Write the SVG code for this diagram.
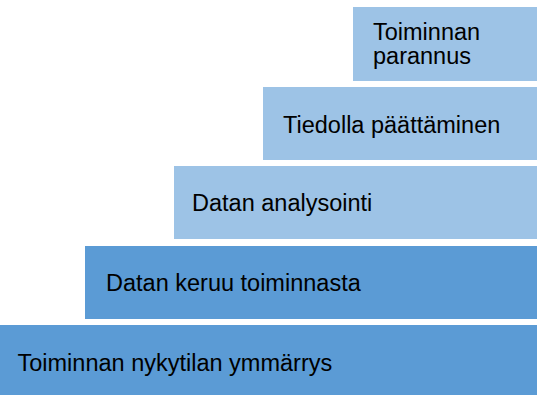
<svg xmlns="http://www.w3.org/2000/svg" width="537" height="395" viewBox="0 0 537 395">
<style>
.light{fill:#9DC3E6}
.dark{fill:#5B9BD5}
text{font-family:"Liberation Sans",Arial,sans-serif;font-size:23.5px;fill:#000}
</style>
<rect width="537" height="395" fill="#fff"/>
<g id="step5">
<rect class="light" x="353" y="7" width="184" height="74"/>
<text x="373" y="39.5">Toiminnan</text>
<text x="373" y="63.5">parannus</text>
</g>
<g id="step4">
<rect class="light" x="263" y="87" width="274" height="73"/>
<text x="283" y="133">Tiedolla päättäminen</text>
</g>
<g id="step3">
<rect class="light" x="174" y="166" width="363" height="73"/>
<text x="192" y="211">Datan analysointi</text>
</g>
<g id="step2">
<rect class="dark" x="85" y="246" width="452" height="73"/>
<text x="106" y="291">Datan keruu toiminnasta</text>
</g>
<g id="step1">
<rect class="dark" x="0" y="325" width="537" height="70"/>
<text x="17.5" y="370.5">Toiminnan nykytilan ymmärrys</text>
</g>
<g id="connectors"/>
</svg>
